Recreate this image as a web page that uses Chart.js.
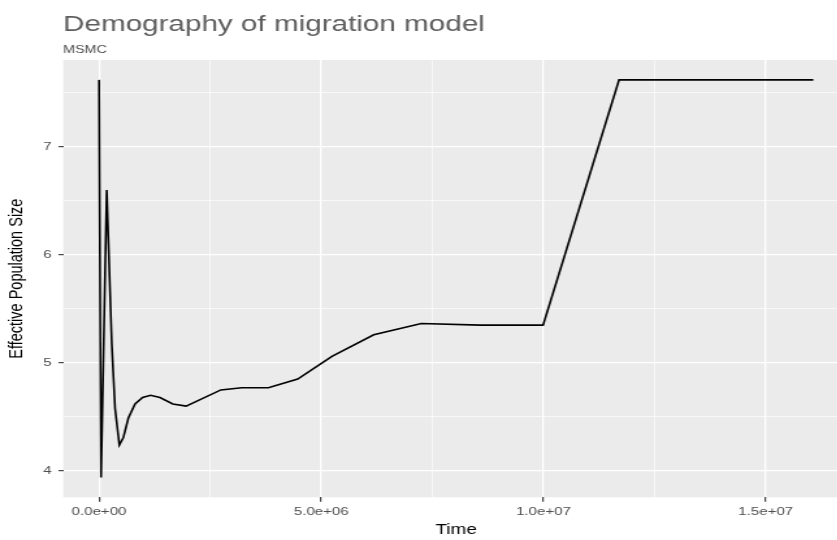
<!DOCTYPE html>
<html>
<head>
<meta charset="utf-8">
<title>Demography of migration model</title>
<script src="https://cdn.jsdelivr.net/npm/chart.js@4.4.1/dist/chart.umd.min.js"></script>
<style>
  html, body { margin: 0; padding: 0; background: #ffffff; }
  #frame { width: 837px; height: 540px; overflow: hidden; position: relative; }
  #plot { display: block; }
</style>
</head>
<body>
<div id="frame"><canvas id="plot"></canvas></div>
<script>
// Plot text
const plotTitle = 'Demography of migration model';
const plotSubtitle = 'MSMC';
const xTitle = 'Time';
const yTitle = 'Effective Population Size';

// MSMC curve: time and effective population size
const timeValues = [
  0, 45000, 173000, 286000, 360000, 457000, 547000, 660000, 810000, 980000,
  1160000, 1370000, 1660000, 1960000, 2740000, 3210000, 3810000, 4470000,
  5240000, 6180000, 7250000, 8580000, 9990000, 11700000, 16070000
];
const neValues = [
  7.62, 3.94, 6.60, 5.18, 4.58, 4.24, 4.31, 4.49, 4.62, 4.68,
  4.70, 4.68, 4.62, 4.60, 4.75, 4.77, 4.77, 4.85,
  5.06, 5.26, 5.365, 5.35, 5.35, 7.62, 7.62
];

// Axis breaks (major ones carry labels, minor ones only a grid line)
const xBreaks = [0, 2.5e6, 5e6, 7.5e6, 1e7, 1.25e7, 1.5e7];
const xMajorBreaks = [0, 5e6, 1e7, 1.5e7];
const yBreaks = [4, 4.5, 5, 5.5, 6, 6.5, 7, 7.5];
const yMajorBreaks = [4, 5, 6, 7];

// Drawing surface: the plot is laid out on a narrower canvas and shown widened
const STRETCH = 1.3;
const CANVAS_W = 653;
const CANVAS_H = 540;
const FONT = '"Liberation Sans", Arial, Helvetica, sans-serif';

const canvas = document.getElementById('plot');
canvas.width = CANVAS_W;
canvas.height = CANVAS_H;
canvas.style.width = (CANVAS_W * STRETCH) + 'px';
canvas.style.height = CANVAS_H + 'px';

// 5% expansion of the data range on both axes
function expandRange(values) {
  const lo = Math.min(...values), hi = Math.max(...values);
  const pad = (hi - lo) * 0.05;
  return [lo - pad, hi + pad];
}
const [xMin, xMax] = expandRange(timeValues);
const [yMin, yMax] = expandRange(neValues);

function sciLabel(v) {
  if (v === 0) return '0.0e+00';
  const e = Math.floor(Math.log10(Math.abs(v)));
  const m = v / Math.pow(10, e);
  return m.toFixed(1) + 'e' + (e < 0 ? '-' : '+') + String(Math.abs(e)).padStart(2, '0');
}

const panelPlugin = {
  id: 'panel',
  beforeDraw(chart) {
    const { ctx, chartArea: a } = chart;
    ctx.save();
    ctx.fillStyle = '#ffffff';
    ctx.fillRect(0, 0, chart.width, chart.height);
    ctx.fillStyle = '#EBEBEB';
    ctx.fillRect(a.left, a.top, a.right - a.left, a.bottom - a.top);
    ctx.restore();
  },
  afterDraw(chart) {
    const { ctx } = chart;
    ctx.save();
    ctx.textAlign = 'left';
    ctx.textBaseline = 'alphabetic';
    ctx.fillStyle = '#5e5e5e';
    ctx.font = '22.8px ' + FONT;
    ctx.fillText(plotTitle, 48.5, 31);
    ctx.fillStyle = '#505050';
    ctx.font = '11px ' + FONT;
    ctx.fillText(plotSubtitle, 48.5, 52.7);
    ctx.restore();
  }
};

new Chart(canvas, {
  type: 'line',
  data: {
    datasets: [{
      data: timeValues.map((t, i) => ({ x: t, y: neValues[i] })),
      borderColor: '#000000',
      borderWidth: 1.6,
      pointRadius: 0,
      tension: 0,
      fill: false
    }]
  },
  options: {
    responsive: false,
    devicePixelRatio: 1,
    animation: false,
    events: [],
    layout: { padding: { top: 60, left: 0, right: 0, bottom: 0 } },
    plugins: { legend: { display: false }, tooltip: { enabled: false }, title: { display: false } },
    scales: {
      x: {
        type: 'linear',
        min: xMin,
        max: xMax,
        afterBuildTicks(scale) { scale.ticks = xBreaks.map(v => ({ value: v })); },
        afterFit(scale) { scale.height = 42.7; },
        border: { display: false },
        grid: {
          color: '#ffffff',
          lineWidth: c => xMajorBreaks.includes(c.tick.value) ? 1.3 : 0.65,
          drawTicks: true,
          tickLength: 4.4,
          tickWidth: 1.1,
          tickColor: c => xMajorBreaks.includes(c.tick.value) ? '#333333' : 'rgba(0,0,0,0)'
        },
        ticks: {
          autoSkip: false,
          maxRotation: 0,
          minRotation: 0,
          padding: 3.1,
          color: '#4D4D4D',
          font: { family: FONT, size: 11.6 },
          callback: v => xMajorBreaks.includes(v) ? sciLabel(v) : ''
        },
        title: {
          display: true,
          text: xTitle,
          color: '#000000',
          font: { family: FONT, size: 14.5 },
          padding: { top: 0, bottom: 1.6 }
        }
      },
      y: {
        type: 'linear',
        min: yMin,
        max: yMax,
        afterBuildTicks(scale) { scale.ticks = yBreaks.map(v => ({ value: v })); },
        afterFit(scale) { scale.width = 48.7; },
        border: { display: false },
        grid: {
          color: '#ffffff',
          lineWidth: c => yMajorBreaks.includes(c.tick.value) ? 1.3 : 0.65,
          drawTicks: true,
          tickLength: 3.7,
          tickWidth: 1.1,
          tickColor: c => yMajorBreaks.includes(c.tick.value) ? '#333333' : 'rgba(0,0,0,0)'
        },
        ticks: {
          autoSkip: false,
          padding: 5.2,
          color: '#4D4D4D',
          font: { family: FONT, size: 11.6 },
          callback: v => yMajorBreaks.includes(v) ? String(v) : ''
        },
        title: {
          display: true,
          text: yTitle,
          color: '#000000',
          font: { family: FONT, size: 14.5 },
          padding: { top: 4.4, bottom: 0 }
        }
      }
    }
  },
  plugins: [panelPlugin]
});
</script>
</body>
</html>
